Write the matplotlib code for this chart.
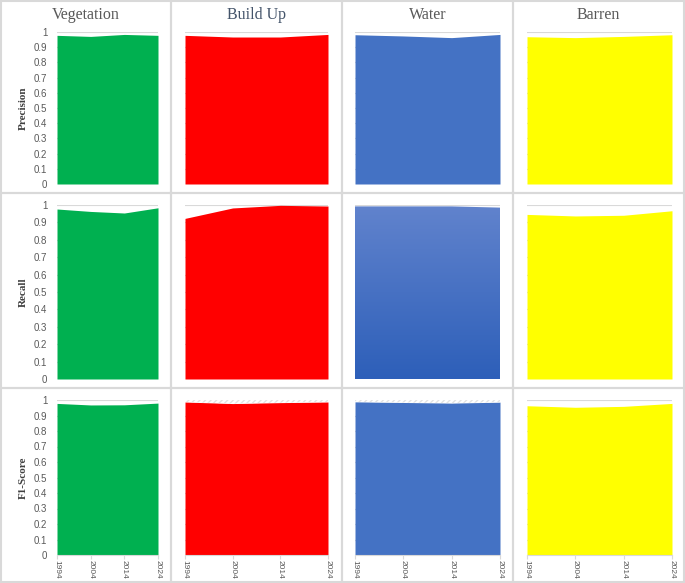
import numpy as np
import matplotlib
matplotlib.use("Agg")
import matplotlib.pyplot as plt
from matplotlib.patches import Rectangle
from matplotlib.colors import LinearSegmentedColormap

years = [1994, 2004, 2014, 2024]
classes = ["Vegetation", "Build Up", "Water", "Barren"]
metrics = ["Precision", "Recall", "F1-Score"]

veg_precision = [0.978, 0.971, 0.984, 0.978]
build_precision = [0.978, 0.967, 0.967, 0.984]
water_precision = [0.982, 0.974, 0.963, 0.984]
barren_precision = [0.969, 0.963, 0.971, 0.982]

veg_recall = [0.977, 0.963, 0.954, 0.984]
build_recall = [0.923, 0.983, 0.998, 0.994]
water_recall = [0.992, 0.992, 0.992, 0.985]
barren_recall = [0.946, 0.937, 0.941, 0.967]

veg_f1 = [0.978, 0.968, 0.969, 0.980]
build_f1 = [0.987, 0.977, 0.983, 0.987]
water_f1 = [0.988, 0.984, 0.980, 0.986]
barren_f1 = [0.963, 0.953, 0.959, 0.978]

values = [
    [veg_precision, build_precision, water_precision, barren_precision],
    [veg_recall, build_recall, water_recall, barren_recall],
    [veg_f1, build_f1, water_f1, barren_f1],
]
colors = ["#00b050", "#ff0000", "#4472c4", "#ffff00"]

W, H = 685, 583
fig = plt.figure(figsize=(W / 100, H / 100), dpi=100)
fig.patch.set_facecolor("white")

# cell grid (pixels)
col_edges = [1, 171, 342, 513, 684]
row_edges = [1, 193, 388, 582]
# plot areas (pixels): x ranges per column, y ranges per row
ax_x = [[57, 158], [185, 328], [355, 500], [527, 672]]
ax_y = [[32, 184], [205, 379], [400, 555]]

for r in range(3):
    for c in range(4):
        x0, x1 = col_edges[c], col_edges[c + 1]
        y0, y1 = row_edges[r], row_edges[r + 1]
        fig.add_artist(Rectangle((x0 / W, 1 - y1 / H), (x1 - x0) / W, (y1 - y0) / H,
                                 transform=fig.transFigure, fill=False,
                                 edgecolor="#d9d9d9", linewidth=1.5))

for r in range(3):
    for c in range(4):
        px0, px1 = ax_x[c]
        py0, py1 = ax_y[r]
        ax = fig.add_axes([px0 / W, 1 - py1 / H, (px1 - px0) / W, (py1 - py0) / H])
        ax.set_facecolor("none")
        vals = values[r][c]
        ax.set_yticks(np.arange(0, 1.01, 0.1))
        ax.grid(axis="y", color="#d9d9d9", linewidth=0.8)
        ax.set_axisbelow(True)
        if r == 1 and c == 2:
            # water recall is drawn with a vertical gradient
            poly = ax.fill_between(years, 0, vals, facecolor="none", edgecolor="none", zorder=2)
            cmap = LinearSegmentedColormap.from_list("wg", ["#2d5fb9", "#6183cd"])
            grad = np.linspace(0, 1, 256).reshape(-1, 1)
            im = ax.imshow(grad, extent=[years[0], years[-1], 0, 1], aspect="auto",
                           cmap=cmap, origin="lower", zorder=2)
            im.set_clip_path(poly.get_paths()[0], transform=ax.transData)
        else:
            ax.fill_between(years, 0, vals, color=colors[c], linewidth=0, zorder=2)
            if r == 2 and c in (1, 2):
                ax.fill_between(years, vals, 1, facecolor="white", edgecolor="#e3e3e3",
                                hatch="//////", linewidth=0, zorder=2)
        ax.set_xlim(years[0], years[-1])
        ax.set_ylim(0, 1)
        for s in ["top", "right", "left"]:
            ax.spines[s].set_visible(False)
        ax.spines["bottom"].set_color("#d9d9d9")
        ax.spines["bottom"].set_visible(r == 2)
        ax.tick_params(axis="y", length=0, pad=7, labelsize=7, labelcolor="#595959")
        if c == 0:
            ax.set_yticklabels(["0", "0.1", "0.2", "0.3", "0.4", "0.5", "0.6", "0.7", "0.8", "0.9", "1"],
                               family="Liberation Sans")
        else:
            ax.set_yticklabels([])
        ax.set_xticks(years)
        if r == 2:
            ax.set_xticklabels([str(y) for y in years], rotation=-90, family="Liberation Sans")
            ax.tick_params(axis="x", length=3, color="#d9d9d9", labelsize=6, labelcolor="#595959", pad=0.5)
        else:
            ax.set_xticklabels([])
            ax.tick_params(axis="x", length=0)

for c, name in enumerate(classes):
    cx = (col_edges[c] + col_edges[c + 1]) / 2
    fig.text(cx / W, 1 - 15 / H, name, ha="center", va="center", family="Liberation Serif",
             fontsize=11.5, color="#44546a" if name == "Build Up" else "#595959")

for r, name in enumerate(metrics):
    cy = (ax_y[r][0] + ax_y[r][1]) / 2
    fig.text(23 / W, 1 - cy / H, name, ha="center", va="center", rotation=90,
             family="Liberation Serif", fontweight="bold", fontsize=8, color="#404040")

fig.savefig("out.png", dpi=100)
